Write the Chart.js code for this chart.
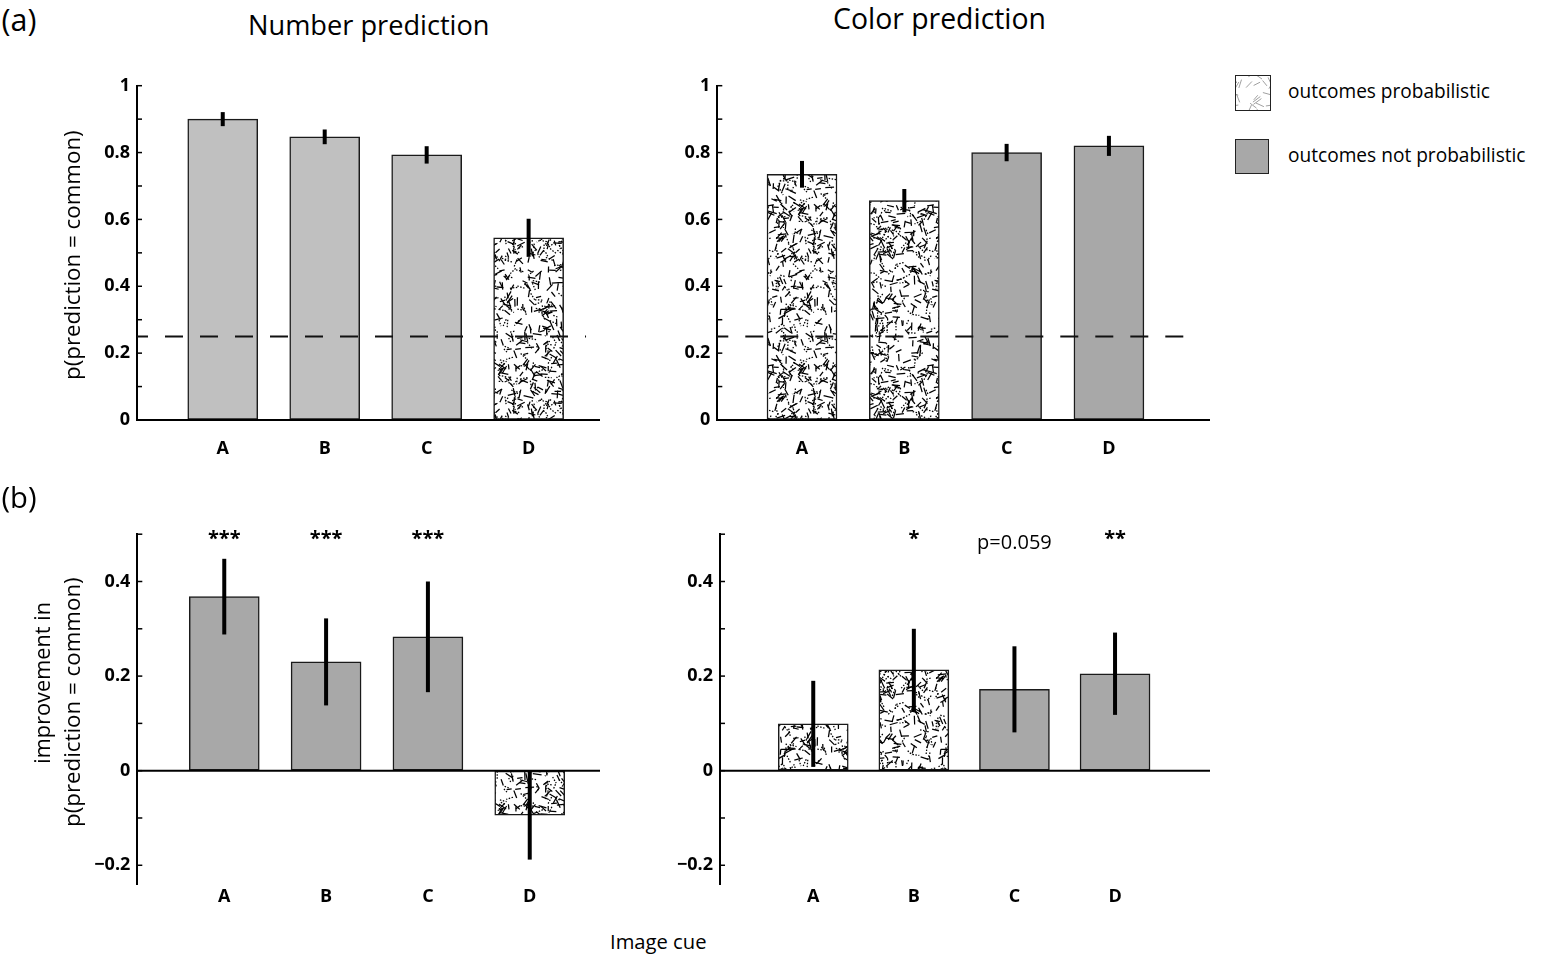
<!DOCTYPE html>
<html><head><meta charset="utf-8">
<script src="https://cdn.jsdelivr.net/npm/chart.js@4/dist/chart.umd.min.js"></script>
<style>
html,body{margin:0;padding:0;background:#fff;width:1554px;height:954px;overflow:hidden;font-family:'Open Sans',sans-serif;}
canvas.panel{position:absolute;}
.t{position:absolute;white-space:nowrap;line-height:1;color:#000;font-family:'Open Sans',sans-serif;}
.sw{position:absolute;box-sizing:border-box;}
</style></head><body>
<canvas id="tl" class="panel" width="600" height="420" style="left:20px;top:60px"></canvas>
<canvas id="tr" class="panel" width="600" height="420" style="left:640px;top:60px"></canvas>
<canvas id="bl" class="panel" width="600" height="420" style="left:20px;top:500px"></canvas>
<canvas id="br" class="panel" width="600" height="420" style="left:640px;top:500px"></canvas>
<canvas id="legSw1" class="sw" width="34" height="34" style="left:1235px;top:75px;border:1.5px solid #222"></canvas>
<div class="sw" style="left:1235px;top:139px;width:34px;height:35px;background:#a8a8a8;border:1.5px solid #222"></div>
<script>
// ---- data ----
const categories = ['A','B','C','D'];
const numberPredVals = [0.900, 0.847, 0.793, 0.545];
const numberPredErr  = [0.021, 0.022, 0.026, 0.057];
const numberPredProb = [false, false, false, true];
const colorPredVals  = [0.735, 0.656, 0.800, 0.820];
const colorPredErr   = [0.040, 0.035, 0.026, 0.030];
const colorPredProb  = [true, true, false, false];
const numberImpVals  = [0.368, 0.230, 0.283, -0.094];
const numberImpErr   = [0.080, 0.092, 0.117, 0.094];
const numberImpProb  = [false, false, false, true];
const numberImpSig   = ['***', '***', '***', ''];
const colorImpVals   = [0.099, 0.213, 0.172, 0.205];
const colorImpErr    = [0.091, 0.087, 0.091, 0.087];
const colorImpProb   = [true, true, false, false];
const colorImpSig    = ['', '*', 'p=0.059', '**'];
const chanceLevel = 0.25;
const topYTickValues = [0, 0.2, 0.4, 0.6, 0.8, 1];
const topYTickLabels = ['0', '0.2', '0.4', '0.6', '0.8', '1'];
const botYTickValues = [-0.2, 0, 0.2, 0.4];
const botYTickLabels = ['\u22120.2', '0', '0.2', '0.4'];

Chart.defaults.font.family = "'Open Sans', sans-serif";

// seeded generator used only for the decorative hatch texture
function makeRng(seed){let a=seed>>>0;return function(){a=(a+0x6D2B79F5)>>>0;let t=a;t=Math.imul(t^(t>>>15),t|1);t^=t+Math.imul(t^(t>>>7),t|61);return((t^(t>>>14))>>>0)/4294967296;};}
function makeTexture(size,count,seed,color,lw,lenMin,lenMax,brokenFrac){
  const c=document.createElement('canvas');c.width=c.height=size;const g=c.getContext('2d');
  g.fillStyle='#fff';g.fillRect(0,0,size,size);
  g.strokeStyle=color;g.lineWidth=lw;g.lineCap='butt';
  const r=makeRng(seed);
  for(let i=0;i<count;i++){
    const x=r()*size,y=r()*size,a=r()*Math.PI,l=lenMin+r()*(lenMax-lenMin);
    const dx=Math.cos(a)*l/2,dy=Math.sin(a)*l/2;
    const broken=r()<brokenFrac;
    g.setLineDash(broken?[1.5,1.5]:[]);
    for(const ox of [-size,0,size])for(const oy of [-size,0,size]){
      g.beginPath();g.moveTo(x+ox-dx,y+oy-dy);g.lineTo(x+ox+dx,y+oy+dy);g.stroke();
    }
  }
  return c;
}
const texture = makeTexture(160,780,20240611,'#000',1.25,5,9,0.3);

function labelFor(v,vals,labs){
  for(let i=0;i<vals.length;i++) if(Math.abs(v-vals[i])<1e-6) return labs[i];
  return '';
}

function buildPanel(id,o){
  const cv=document.getElementById(id);
  const ctx=cv.getContext('2d');
  const pattern=ctx.createPattern(texture,'repeat');
  const deco={id:'deco'+id, afterDatasetsDraw(chart){
    const {ctx,chartArea:a,scales:{x,y}}=chart;
    ctx.save();
    ctx.strokeStyle='#000';ctx.lineWidth=1.5;ctx.setLineDash([]);
    y.ticks.forEach(t=>{const py=y.getPixelForValue(t.value);ctx.beginPath();ctx.moveTo(a.left,py);ctx.lineTo(a.left+5,py);ctx.stroke();});
    const y0=y.getPixelForValue(0);
    ctx.lineWidth=2;ctx.beginPath();ctx.moveTo(a.left,y0);ctx.lineTo(a.right,y0);ctx.stroke();
    if(o.chance!=null){
      const pc=y.getPixelForValue(o.chance);
      ctx.setLineDash([18,17]);ctx.lineDashOffset=7;ctx.lineWidth=2;ctx.strokeStyle='#111';
      ctx.beginPath();ctx.moveTo(a.left,pc);ctx.lineTo(x.getPixelForValue(o.chanceEnd),pc);ctx.stroke();
      ctx.setLineDash([]);
    }
    const meta=chart.getDatasetMeta(0);
    ctx.strokeStyle='#000';ctx.lineWidth=4;ctx.lineCap='butt';
    meta.data.forEach((el,i)=>{
      const v=o.vals[i],e=o.errs[i];
      ctx.beginPath();ctx.moveTo(el.x,y.getPixelForValue(v-e));ctx.lineTo(el.x,y.getPixelForValue(v+e));ctx.stroke();
    });
    if(o.sig){
      ctx.fillStyle='#000';ctx.textAlign='center';ctx.textBaseline='alphabetic';
      meta.data.forEach((el,i)=>{
        const s=o.sig[i];if(!s)return;
        const isStar=/^\*+$/.test(s);
        ctx.font=isStar?"bold 20px 'Open Sans'":"20px 'Open Sans'";
        ctx.fillText(s,el.x,y.getPixelForValue(o.sigY)+(isStar?-1:3));
      });
    }
    ctx.restore();
  }};
  return new Chart(ctx,{
    type:'bar',
    data:{datasets:[{
      data:o.vals.map((v,i)=>({x:i+1,y:v})),
      backgroundColor:o.prob.map(p=>p?pattern:o.fill),
      borderColor:'#1a1a1a',borderWidth:1.5,borderSkipped:false,barThickness:70
    }]},
    options:{
      responsive:false,animation:false,events:[],
      layout:{padding:{left:0,top:o.pt,right:o.pr,bottom:0}},
      plugins:{legend:{display:false},tooltip:{enabled:false}},
      scales:{
        x:{type:'linear',min:o.xMin,max:o.xMax,offset:false,
          afterBuildTicks:s=>{s.ticks=categories.map((c,i)=>({value:i+1}));},
          afterFit:s=>{s.height=o.xh;},
          grid:{display:false,offset:false},border:{display:false},
          ticks:{callback:v=>categories[Math.round(v)-1],font:{size:18,weight:'bold'},color:'#000',padding:o.xPad,maxRotation:0,autoSkip:false}},
        y:{min:o.yMin,max:o.yMax,
          afterFit:s=>{s.width=o.yw;},
          afterBuildTicks:s=>{
            const t=[];
            for(let k=Math.ceil(o.yMin*10-1e-9);k<=Math.floor(o.yMax*10+1e-9);k++) t.push({value:k/10});
            s.ticks=t;
          },
          grid:{display:true,drawOnChartArea:false,drawTicks:false},
          border:{display:true,color:'#000',width:2},
          ticks:{stepSize:0.1,autoSkip:false,callback:v=>labelFor(v,o.yVals,o.yLabs),font:{size:18,weight:'bold'},color:'#000',padding:7}}
      }
    },
    plugins:[deco]
  });
}

buildPanel('tl',{vals:numberPredVals,errs:numberPredErr,prob:numberPredProb,fill:'#c0c0c0',
  pt:25.7,pr:20,yw:117,xh:60,xMin:0.159,xMax:4.70,yMin:0,yMax:1,yVals:topYTickValues,yLabs:topYTickLabels,
  xPad:10,chance:chanceLevel,chanceEnd:4.563});
buildPanel('tr',{vals:colorPredVals,errs:colorPredErr,prob:colorPredProb,fill:'#a8a8a8',
  pt:25.7,pr:30,yw:77.3,xh:60,xMin:0.172,xMax:4.988,yMin:0,yMax:1,yVals:topYTickValues,yLabs:topYTickLabels,
  xPad:10,chance:chanceLevel,chanceEnd:4.763});
buildPanel('bl',{vals:numberImpVals,errs:numberImpErr,prob:numberImpProb,fill:'#a8a8a8',
  pt:34.2,pr:20,yw:117.3,xh:35.8,xMin:0.146,xMax:4.69,yMin:-0.24,yMax:0.5,yVals:botYTickValues,yLabs:botYTickLabels,
  xPad:-6,sig:numberImpSig,sigY:0.475});
buildPanel('br',{vals:colorImpVals,errs:colorImpErr,prob:colorImpProb,fill:'#a8a8a8',
  pt:34.2,pr:30,yw:80,xh:35.8,xMin:0.073,xMax:4.944,yMin:-0.24,yMax:0.5,yVals:botYTickValues,yLabs:botYTickLabels,
  xPad:-6,sig:colorImpSig,sigY:0.475});

// legend swatch texture
(function(){
  const c=document.getElementById('legSw1');const g=c.getContext('2d');
  g.drawImage(makeTexture(34,16,777,'#888',0.8,6,10,0),0,0);
})();

// text labels
function placeText(str,cx,cy,targetW,opts){
  opts=opts||{};
  const d=document.createElement('div');d.className='t';d.textContent=str;
  d.style.fontSize='20px';if(opts.weight)d.style.fontWeight=opts.weight;
  document.body.appendChild(d);
  const w0=d.offsetWidth;const fs=20*targetW/w0;d.style.fontSize=fs+'px';
  const w=d.offsetWidth,h=d.offsetHeight;
  d.style.left=(cx-w/2)+'px';d.style.top=(cy-h/2)+'px';
  if(opts.rot){d.style.transformOrigin='50% 50%';d.style.transform='rotate(-90deg)';}
}
placeText('(a)',19,19,35);
placeText('(b)',19,497,35);
placeText('Number prediction',369,24,242);
placeText('Color prediction',939.5,18,213);
placeText('p(prediction = common)',72,255,250,{rot:true});
placeText('improvement in',42,683,162,{rot:true});
placeText('p(prediction = common)',72,702,250,{rot:true});
placeText('Image cue',658,941,97);
placeText('outcomes probabilistic',1389,91,202);
placeText('outcomes not probabilistic',1407,155,238);
</script>
</body></html>
